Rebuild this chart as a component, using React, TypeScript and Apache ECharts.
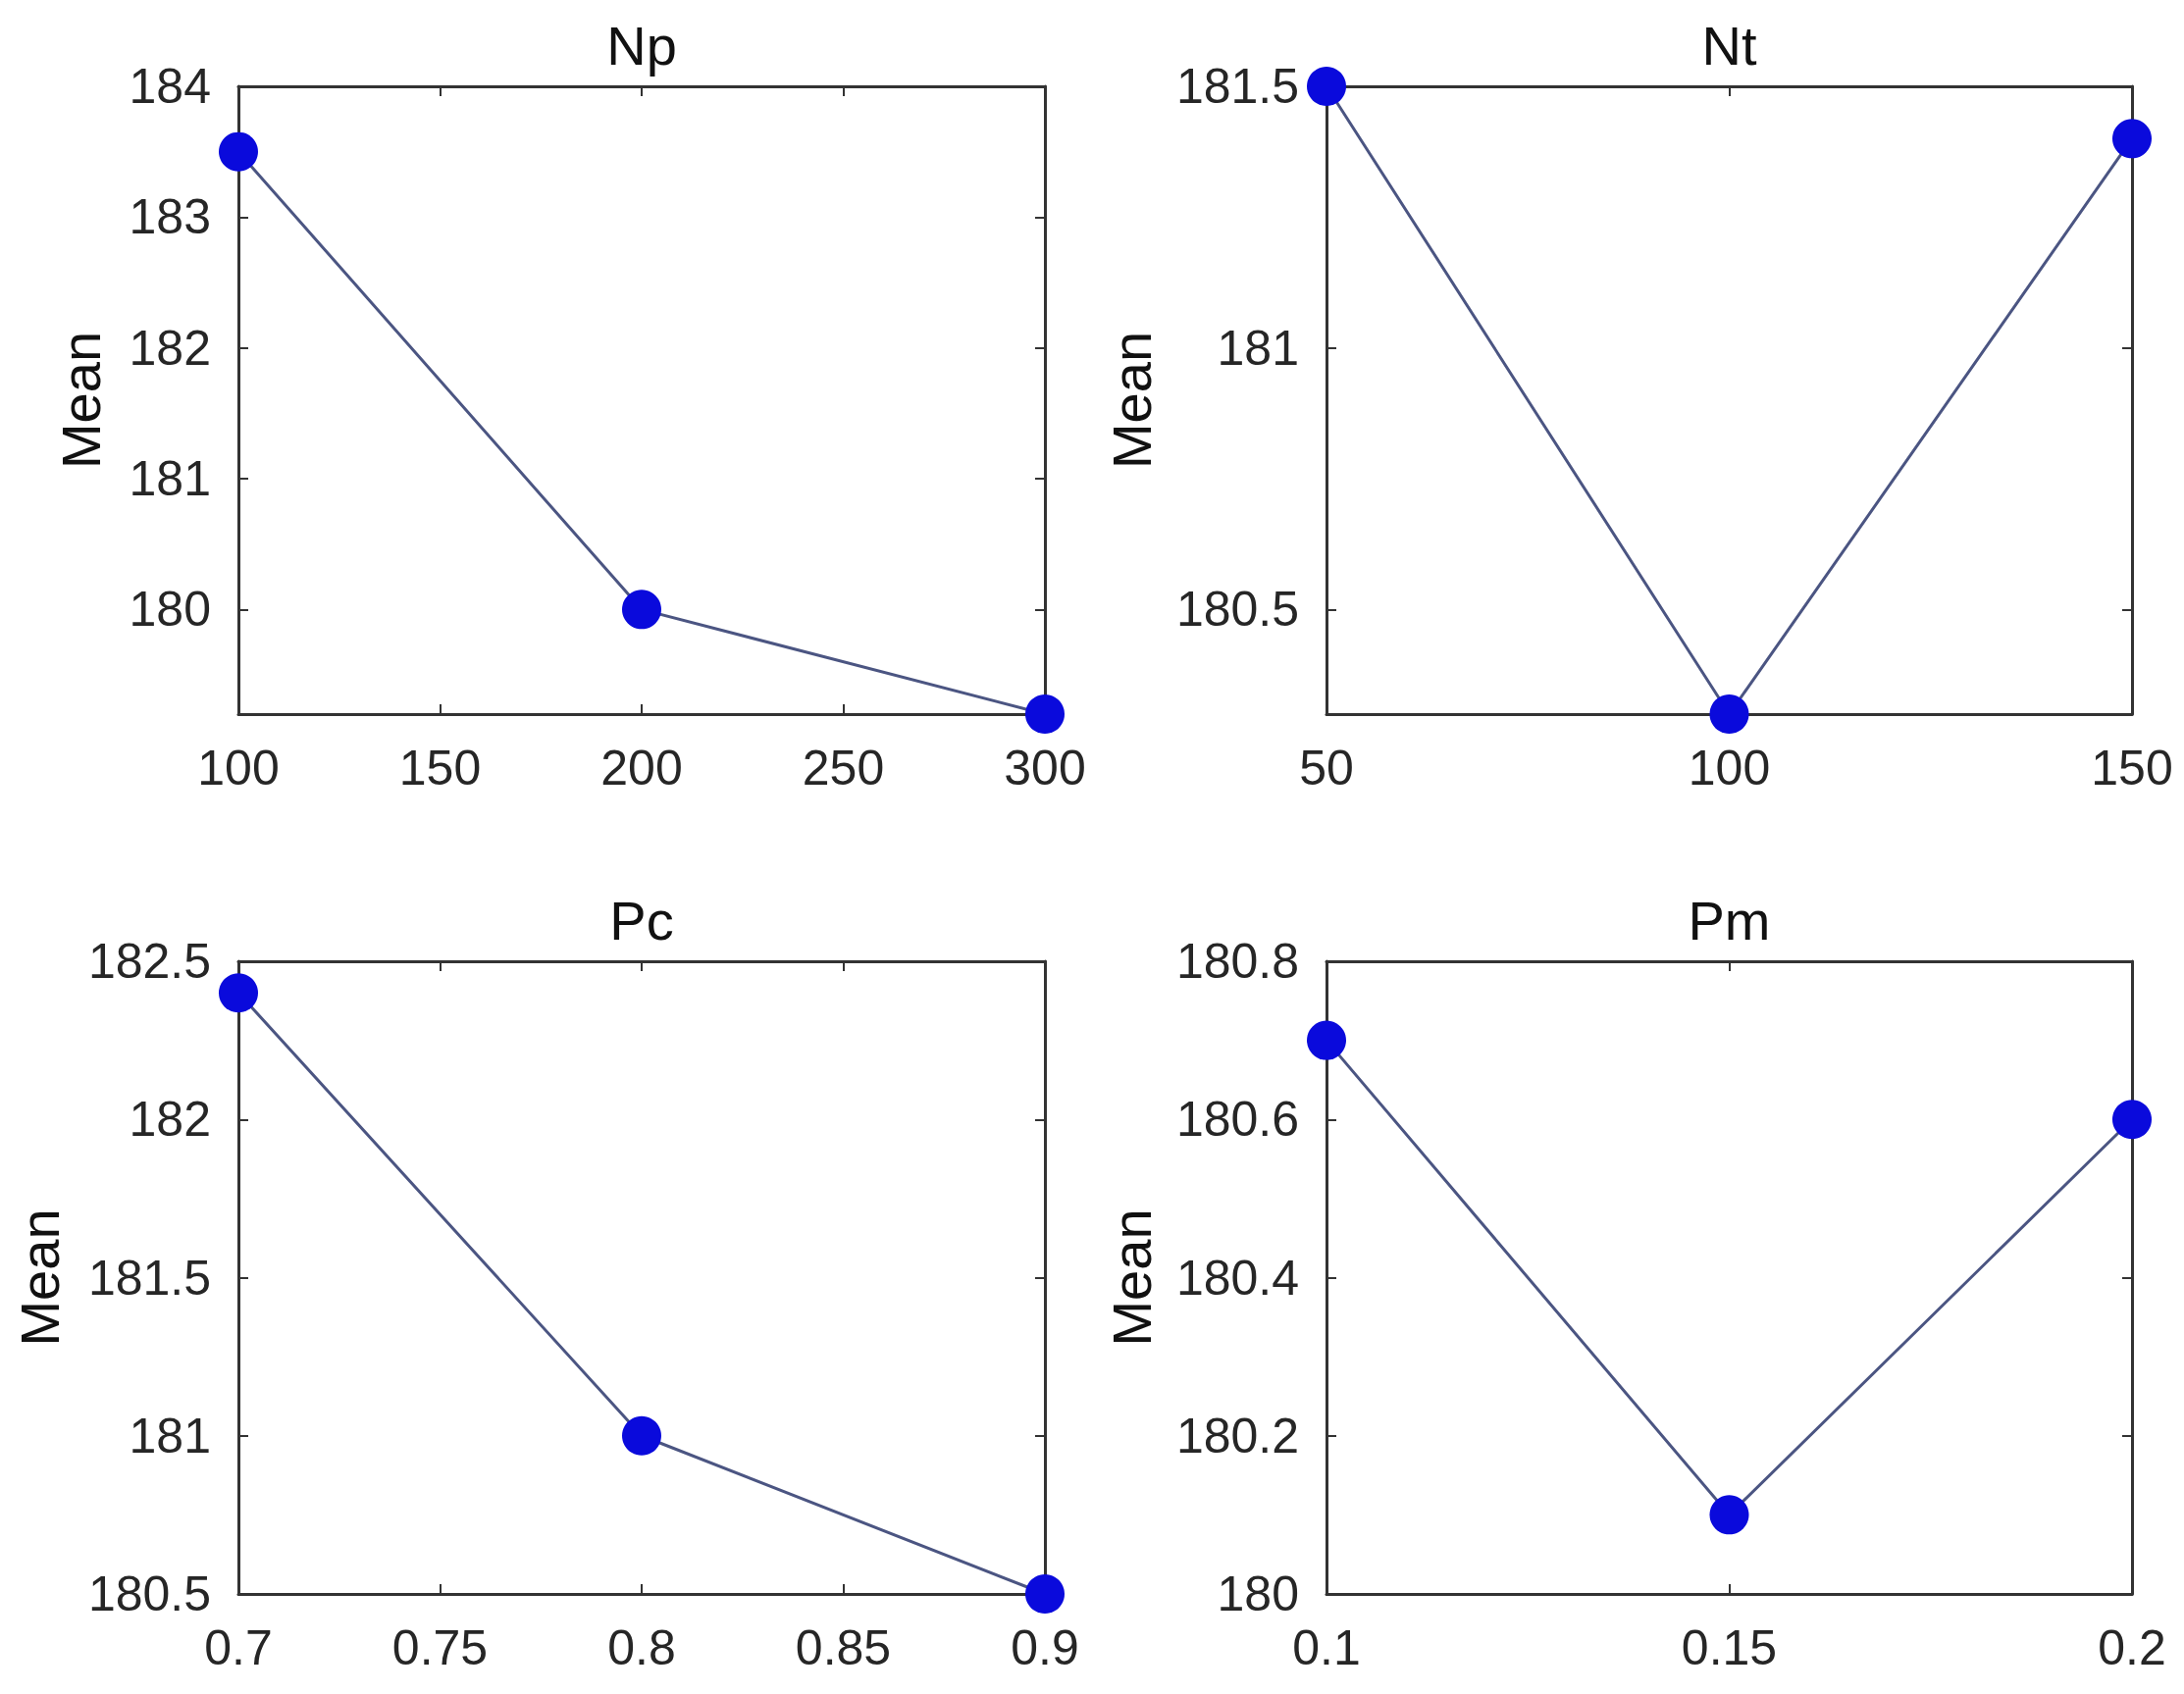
import React, { useEffect, useRef } from "react";
import * as echarts from "echarts";

// ---- data ----
const panelTitles = ["Np", "Nt", "Pc", "Pm"];

const npX = [100, 200, 300];
const npY = [183.5, 180.0, 179.2];
const ntX = [50, 100, 150];
const ntY = [181.5, 180.3, 181.4];
const pcX = [0.7, 0.8, 0.9];
const pcY = [182.4, 181.0, 180.5];
const pmX = [0.1, 0.15, 0.2];
const pmY = [180.7, 180.1, 180.6];

const npXTicks = [100, 150, 200, 250, 300];
const npYTicks = [180, 181, 182, 183, 184];
const ntXTicks = [50, 100, 150];
const ntYTicks = [180.5, 181, 181.5];
const pcXTicks = [0.7, 0.75, 0.8, 0.85, 0.9];
const pcYTicks = [180.5, 181, 181.5, 182, 182.5];
const pmXTicks = [0.1, 0.15, 0.2];
const pmYTicks = [180, 180.2, 180.4, 180.6, 180.8];

const npXRange = [100, 300];
const npYRange = [179.2, 184];
const ntXRange = [50, 150];
const ntYRange = [180.3, 181.5];
const pcXRange = [0.7, 0.9];
const pcYRange = [180.5, 182.5];
const pmXRange = [0.1, 0.2];
const pmYRange = [180, 180.8];

const yName = "Mean";

const FONT = "Arial, 'Liberation Sans', Helvetica, sans-serif";

export default function App() {
  const ref = useRef<HTMLDivElement>(null);

  useEffect(() => {
    if (!ref.current) return;
    const chart = echarts.init(ref.current, null, { renderer: "svg" });

    const panels = [
      { x: npX, y: npY, xt: npXTicks, yt: npYTicks, xr: npXRange, yr: npYRange },
      { x: ntX, y: ntY, xt: ntXTicks, yt: ntYTicks, xr: ntXRange, yr: ntYRange },
      { x: pcX, y: pcY, xt: pcXTicks, yt: pcYTicks, xr: pcXRange, yr: pcYRange },
      { x: pmX, y: pmY, xt: pmXTicks, yt: pmYTicks, xr: pmXRange, yr: pmYRange },
    ];

    const grids = [
      { left: 243, top: 88, width: 822, height: 640 },
      { left: 1352, top: 88, width: 821, height: 640 },
      { left: 243, top: 980, width: 822, height: 645 },
      { left: 1352, top: 980, width: 821, height: 645 },
    ];
    const nameGaps = [133, 171, 175, 171];

    const axisLine = { show: true, lineStyle: { color: "#333333", width: 3 } };
    const tickStyle = { color: "#333333", width: 2 };
    const labelStyle = { color: "#262626", fontSize: 50, fontFamily: FONT };

    const xAxes: any[] = [];
    const yAxes: any[] = [];
    const series: any[] = [];
    const graphics: any[] = [];

    panels.forEach((p, i) => {
      const g = grids[i];
      xAxes.push({
        type: "value",
        gridIndex: i,
        position: "bottom",
        min: p.xr[0],
        max: p.xr[1],
        axisLine,
        splitLine: { show: false },
        axisTick: { show: true, inside: true, length: 10, lineStyle: tickStyle, customValues: p.xt },
        axisLabel: { ...labelStyle, margin: 30, customValues: p.xt, showMinLabel: true, showMaxLabel: true },
      });
      xAxes.push({
        type: "value",
        gridIndex: i,
        position: "top",
        min: p.xr[0],
        max: p.xr[1],
        axisLine,
        splitLine: { show: false },
        axisTick: { show: true, inside: true, length: 10, lineStyle: tickStyle, customValues: p.xt },
        axisLabel: { show: false },
      });
      yAxes.push({
        type: "value",
        gridIndex: i,
        position: "left",
        min: p.yr[0],
        max: p.yr[1],
        axisLine,
        splitLine: { show: false },
        axisTick: { show: true, inside: true, length: 10, lineStyle: tickStyle, customValues: p.yt },
        axisLabel: { ...labelStyle, margin: 28, customValues: p.yt, showMinLabel: true, showMaxLabel: true },
        name: yName,
        nameLocation: "middle",
        nameGap: nameGaps[i],
        nameTextStyle: { color: "#111111", fontSize: 56, fontFamily: FONT },
      });
      yAxes.push({
        type: "value",
        gridIndex: i,
        position: "right",
        min: p.yr[0],
        max: p.yr[1],
        axisLine,
        splitLine: { show: false },
        axisTick: { show: true, inside: true, length: 10, lineStyle: tickStyle, customValues: p.yt },
        axisLabel: { show: false },
      });
      series.push({
        type: "line",
        xAxisIndex: 2 * i,
        yAxisIndex: 2 * i,
        data: p.x.map((xv, k) => [xv, p.y[k]]),
        symbol: "circle",
        symbolSize: 40,
        showAllSymbol: true,
        clip: false,
        itemStyle: { color: "#0a0adc", borderWidth: 0 },
        lineStyle: { color: "#4b5582", width: 3 },
        z: 3,
      });
      graphics.push({
        type: "text",
        x: g.left + g.width / 2,
        y: g.top - 42,
        style: {
          text: panelTitles[i],
          fill: "#111111",
          fontSize: 56,
          fontFamily: FONT,
          align: "center",
          verticalAlign: "middle",
        },
      });
    });

    chart.setOption({
      animation: false,
      backgroundColor: "#ffffff",
      grid: grids,
      xAxis: xAxes,
      yAxis: yAxes,
      series,
      graphic: graphics,
    });

    return () => chart.dispose();
  }, []);

  return (
    <div
      ref={ref}
      style={{ position: "absolute", left: 0, top: 0, width: 2226, height: 1727, background: "#fff" }}
    />
  );
}
